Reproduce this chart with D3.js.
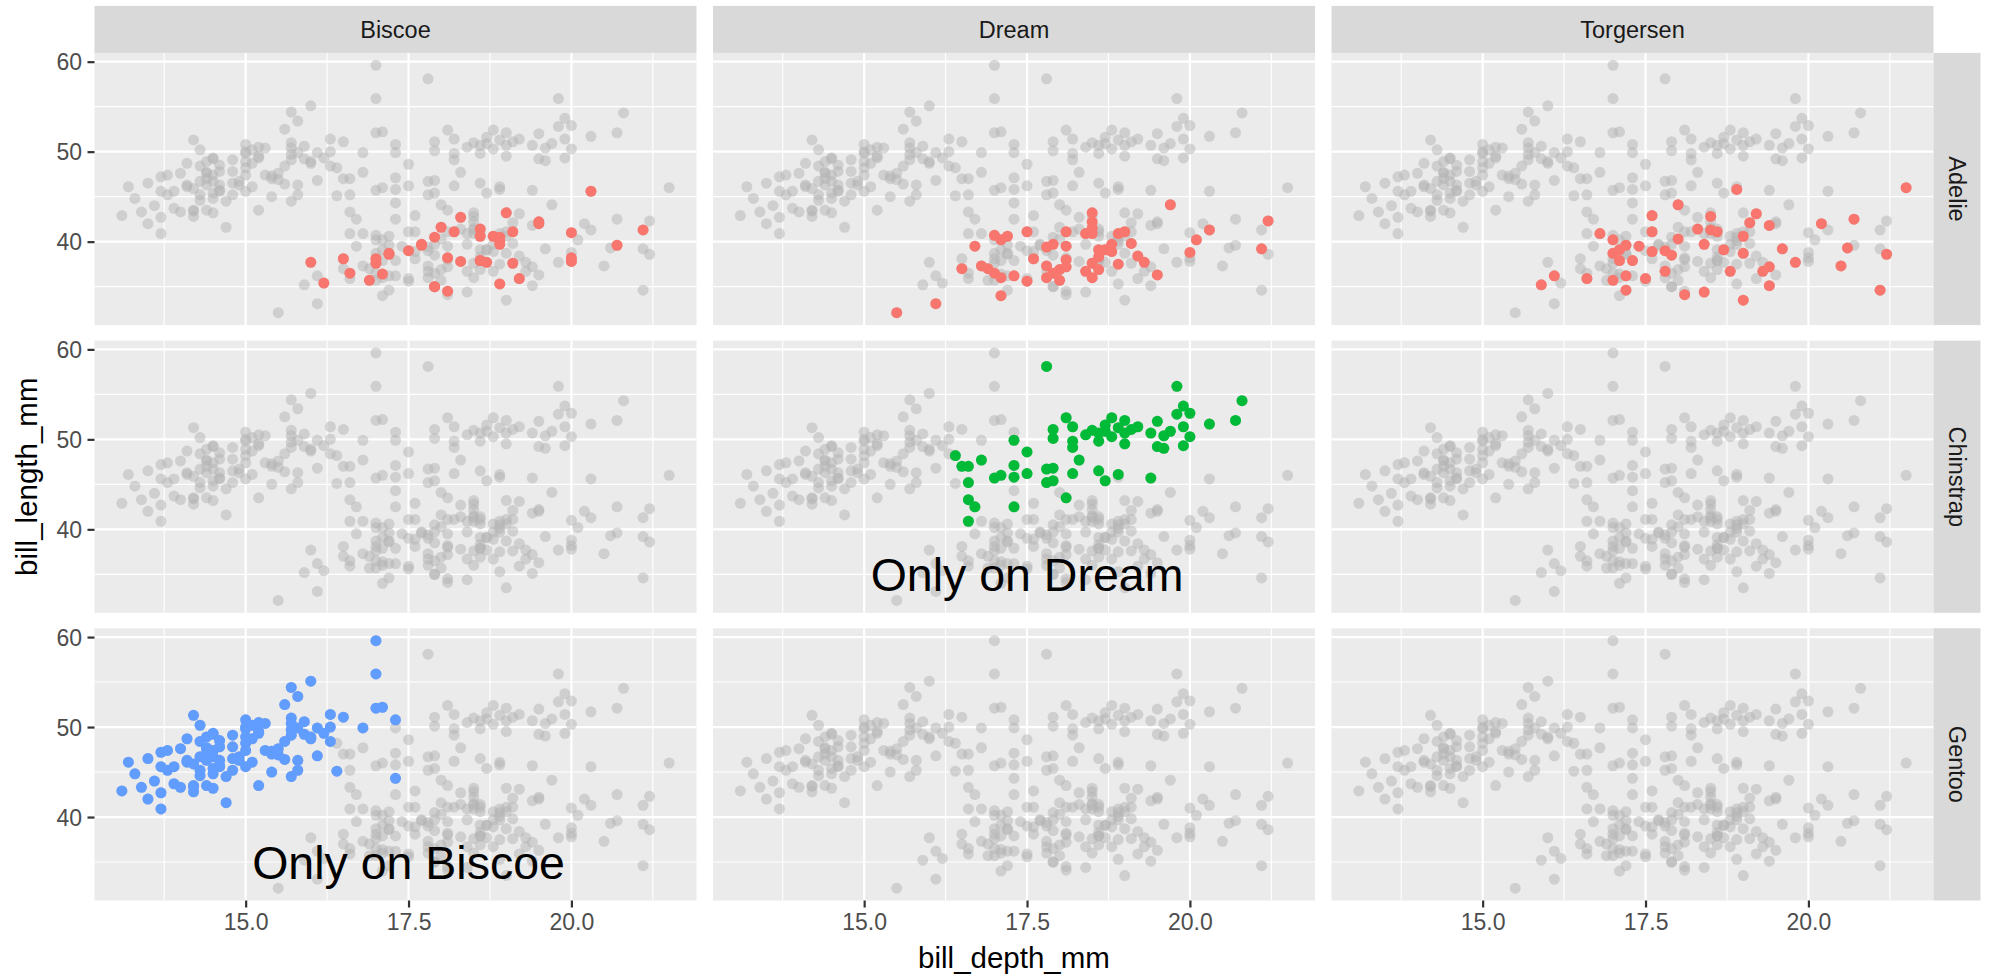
<!DOCTYPE html>
<html>
<head>
<meta charset="utf-8">
<script src="https://cdn.jsdelivr.net/npm/d3@7"></script>
<style>
  html, body { margin: 0; padding: 0; background: #ffffff; }
  svg { display: block; font-family: "Liberation Sans", Arial, sans-serif; }
</style>
</head>
<body>
<svg id="chart" width="1989" height="975"></svg>
<script>
// Facet layout: rows are species, columns are islands
const species = ["Adelie", "Chinstrap", "Gentoo"];
const islands = ["Biscoe", "Dream", "Torgersen"];

// Tick values for both axes
const xTicks = [15.0, 17.5, 20.0];
const xMinor = [13.75, 16.25, 18.75, 21.25];
const yTicks = [40, 50, 60];
const yMinor = [35, 45, 55];

// [bill_depth_mm, bill_length_mm]
const adelieBiscoe = [
  [16.0,37.7],[16.2,35.4],[16.5,38.1],[16.6,36.5],[16.9,35.7],[17.0,38.1],[17.0,37.6],
  [17.1,36.4],[17.2,38.7],[17.2,38.6],[17.5,39.0],[17.7,39.6],[17.7,39.7],[17.9,40.5],
  [17.9,35.0],[17.9,35.0],[18.0,41.6],[18.1,34.5],[18.1,38.2],[18.2,41.1],[18.3,42.7],
  [18.3,37.8],[18.6,41.4],[18.6,40.6],[18.6,37.9],[18.6,37.9],[18.7,37.7],[18.8,40.6],
  [18.9,40.5],[18.9,39.7],[18.9,40.1],[18.9,35.3],[19.0,43.2],[19.1,41.1],[19.1,37.6],
  [19.2,35.9],[19.5,42.2],[19.5,42.0],[20.0,41.0],[20.0,38.2],[20.0,37.8],[20.3,45.6],
  [20.7,39.6],[21.1,41.3]
];

const adelieDream = [
  [15.5,32.1],[16.1,33.1],[16.5,37.0],[16.7,39.5],[16.8,37.3],[16.9,37.0],[17.0,40.7],
  [17.0,36.5],[17.1,40.2],[17.1,36.0],[17.1,34.0],[17.2,40.6],[17.3,36.2],[17.5,41.1],
  [17.5,35.6],[17.6,38.1],[17.8,39.4],[17.8,37.3],[17.8,36.0],[17.9,39.7],[17.9,36.5],
  [18.0,35.7],[18.0,36.9],[18.1,41.1],[18.1,39.5],[18.1,38.0],[18.1,37.2],[18.4,40.9],
  [18.4,36.7],[18.5,43.2],[18.5,42.2],[18.5,41.5],[18.5,40.9],[18.5,37.6],[18.5,36.0],
  [18.6,36.9],[18.6,39.1],[18.6,38.3],[18.7,39.1],[18.8,39.7],[18.8,38.9],[18.9,40.9],
  [18.9,37.5],[19.0,41.1],[19.1,39.8],[19.2,38.4],[19.3,37.7],[19.5,36.3],[19.7,44.1],
  [20.0,38.8],[20.1,40.2],[20.3,41.3],[21.1,39.2],[21.2,42.3]
];

const adelieTorgersen = [
  [15.9,35.2],[16.1,36.2],[16.6,35.9],[16.8,40.9],[17.0,40.2],[17.0,38.7],[17.0,35.7],
  [17.1,39.1],[17.1,37.9],[17.2,39.6],[17.2,36.2],[17.2,34.6],[17.3,37.9],[17.4,39.5],
  [17.5,35.9],[17.6,42.9],[17.6,41.1],[17.6,38.9],[17.8,39.0],[17.8,36.7],[17.9,38.5],
  [18.0,44.1],[18.0,40.3],[18.1,34.1],[18.3,41.4],[18.4,39.7],[18.4,34.4],[18.5,42.8],
  [18.5,41.3],[18.6,41.1],[18.7,39.1],[18.8,36.7],[18.9,45.8],[19.0,40.6],[19.0,38.7],
  [19.0,33.5],[19.1,42.1],[19.2,43.1],[19.3,36.7],[19.4,41.8],[19.4,37.2],[19.4,35.1],
  [19.6,39.2],[19.8,37.7],[20.2,42.0],[20.5,37.3],[20.6,39.3],[20.7,42.5],[21.1,34.6],
  [21.2,38.6],[21.5,46.0]
];

const chinstrapDream = [
  [17.8,58.1],[19.8,55.9],[20.8,54.3],[20.7,52.1],[20.3,51.7],[19.9,53.7],[20.0,52.9],
  [19.8,52.8],[19.9,51.4],[20.0,50.3],[19.9,49.3],[19.7,50.9],[19.6,50.4],[19.5,52.0],
  [19.5,49.2],[19.6,49.0],[19.4,50.7],[19.2,51.4],[19.1,51.1],[19.0,52.1],[19.0,49.5],
  [19.0,50.7],[18.8,52.4],[18.8,50.3],[18.7,51.6],[18.7,50.9],[18.6,49.8],[18.6,50.7],
  [18.5,51.0],[18.4,50.5],[18.2,51.4],[18.1,52.4],[18.2,49.8],[18.2,49.1],[17.9,51.1],
  [17.9,50.1],[18.3,47.7],[17.3,49.9],[17.5,48.6],[17.3,47.1],[17.5,46.2],[17.3,45.8],
  [17.3,42.5],[17.8,46.7],[17.9,46.8],[17.8,45.2],[18.2,46.2],[18.1,43.5],[18.6,46.5],
  [18.7,45.4],[18.9,46.1],[19.4,45.7],[17.0,45.7],[17.1,46.0],[16.8,47.7],[16.4,48.2],
  [16.5,47.0],[16.6,47.0],[16.6,45.2],[16.6,43.3],[16.7,42.5],[16.6,40.9],[18.9,51.3],
  [17.9,45.4]
];

const gentooBiscoe = [
  [13.1,42.9],[13.2,46.1],[13.3,44.8],[13.4,43.3],[13.5,46.5],[13.5,42.0],[13.6,44.0],
  [13.7,47.2],[13.7,45.6],[13.7,42.7],[13.7,40.9],[13.8,47.4],[13.8,45.2],[13.9,45.6],
  [13.9,43.7],[14.0,47.6],[14.0,43.3],[14.1,48.7],[14.1,46.1],[14.1,46.3],[14.2,51.3],
  [14.3,50.2],[14.2,45.9],[14.2,43.5],[14.2,42.8],[14.2,43.4],[14.3,48.4],[14.3,46.7],
  [14.3,44.6],[14.3,45.2],[14.4,48.9],[14.4,47.7],[14.4,47.6],[14.4,47.0],[14.4,46.3],
  [14.4,43.5],[14.5,49.2],[14.5,49.3],[14.5,47.4],[14.5,46.7],[14.5,45.4],[14.5,44.8],
  [14.5,43.2],[14.6,48.5],[14.6,47.8],[14.6,46.3],[14.6,45.7],[14.6,45.6],[14.7,44.5],
  [14.7,41.6],[14.8,49.1],[14.8,47.8],[14.8,46.5],[14.8,45.2],[14.9,46.7],[14.9,46.3],
  [15.0,50.8],[15.0,50.0],[15.0,49.8],[15.0,48.9],[15.0,48.2],[15.0,47.4],[15.0,45.6],
  [15.1,50.2],[15.1,48.7],[15.1,46.1],[15.2,50.5],[15.2,49.5],[15.2,49.3],[15.2,43.5],
  [15.3,50.4],[15.3,47.4],[15.4,47.0],[15.4,47.3],[15.4,45.0],[15.5,46.9],[15.5,47.6],
  [15.6,52.5],[15.6,48.4],[15.6,46.4],[15.7,54.4],[15.7,51.0],[15.7,50.4],[15.7,49.1],
  [15.7,49.7],[15.7,44.5],[15.8,53.4],[15.8,49.9],[15.8,46.3],[15.8,45.2],[15.9,50.6],
  [15.9,49.2],[16.0,55.1],[16.0,48.7],[16.0,48.9],[16.1,49.9],[16.1,46.8],[16.2,49.3],
  [16.3,51.4],[16.3,50.0],[16.3,48.4],[16.4,45.1],[16.5,51.1],[16.8,49.9],[17.0,59.6],
  [17.0,55.9],[17.0,52.1],[17.1,52.2],[17.3,50.8],[17.3,44.3]
];

// Highlighted subset for each species/island facet
const subsets = [
  { species: "Adelie",    island: "Biscoe",    points: adelieBiscoe },
  { species: "Adelie",    island: "Dream",     points: adelieDream },
  { species: "Adelie",    island: "Torgersen", points: adelieTorgersen },
  { species: "Chinstrap", island: "Dream",     points: chinstrapDream },
  { species: "Gentoo",    island: "Biscoe",    points: gentooBiscoe }
];

const speciesColors = ["#F8766D", "#00BA38", "#619CFF"];

const notes = [
  { species: "Chinstrap", island: "Dream",  x: 17.5, y: 35, label: "Only on Dream" },
  { species: "Gentoo",    island: "Biscoe", x: 17.5, y: 35, label: "Only on Biscoe" }
];

// Every penguin, drawn as grey context in each facet
const allPoints = subsets.flatMap(s => s.points);

// ---- geometry ----
const marginLeft = 94.5, marginTop = 52.9;
const panelW = 602, panelH = 272.2;
const gapX = 16.5, gapY = 15.5;
const stripSize = 47;

const svg = d3.select("#chart");

function padded(extent) {
  const span = extent[1] - extent[0];
  return [extent[0] - span * 0.05, extent[1] + span * 0.05];
}

const x = d3.scaleLinear()
  .domain(padded(d3.extent(allPoints, d => d[0])))
  .range([0, panelW]);
const y = d3.scaleLinear()
  .domain(padded(d3.extent(allPoints, d => d[1])))
  .range([panelH, 0]);

const color = d3.scaleOrdinal().domain(species).range(speciesColors);

const panelX = i => marginLeft + i * (panelW + gapX);
const panelY = j => marginTop + j * (panelH + gapY);

// ---- panels ----
species.forEach((sp, r) => {
  islands.forEach((isl, c) => {
    const g = svg.append("g").attr("transform", `translate(${panelX(c)},${panelY(r)})`);

    g.append("rect")
      .attr("width", panelW).attr("height", panelH)
      .attr("fill", "#EBEBEB");

    // minor grid
    g.selectAll(".vmin").data(xMinor).join("line")
      .attr("x1", d => x(d)).attr("x2", d => x(d))
      .attr("y1", 0).attr("y2", panelH)
      .attr("stroke", "#ffffff").attr("stroke-width", 1.1);
    g.selectAll(".hmin").data(yMinor).join("line")
      .attr("y1", d => y(d)).attr("y2", d => y(d))
      .attr("x1", 0).attr("x2", panelW)
      .attr("stroke", "#ffffff").attr("stroke-width", 1.1);

    // major grid
    g.selectAll(".vmaj").data(xTicks).join("line")
      .attr("x1", d => x(d)).attr("x2", d => x(d))
      .attr("y1", 0).attr("y2", panelH)
      .attr("stroke", "#ffffff").attr("stroke-width", 2.2);
    g.selectAll(".hmaj").data(yTicks).join("line")
      .attr("y1", d => y(d)).attr("y2", d => y(d))
      .attr("x1", 0).attr("x2", panelW)
      .attr("stroke", "#ffffff").attr("stroke-width", 2.2);

    // grey context points
    g.append("g").selectAll("circle").data(allPoints).join("circle")
      .attr("cx", d => x(d[0])).attr("cy", d => y(d[1]))
      .attr("r", 5.5)
      .attr("fill", "#B3B3B3").attr("fill-opacity", 0.5);

    // highlighted species/island points
    const sub = subsets.find(s => s.species === sp && s.island === isl);
    if (sub) {
      g.append("g").selectAll("circle").data(sub.points).join("circle")
        .attr("cx", d => x(d[0])).attr("cy", d => y(d[1]))
        .attr("r", 5.5)
        .attr("fill", color(sp));
    }

    notes.filter(n => n.species === sp && n.island === isl).forEach(n => {
      g.append("text")
        .attr("x", x(n.x)).attr("y", y(n.y))
        .attr("dy", "0.358em")
        .attr("text-anchor", "middle")
        .attr("font-size", 46.5)
        .attr("fill", "#000000")
        .text(n.label);
    });

    // y axis on the first column
    if (c === 0) {
      const ya = d3.axisLeft(y).tickValues(yTicks).tickSize(7).tickPadding(5.5)
        .tickFormat(d3.format("d"));
      const ag = g.append("g").call(ya);
      ag.select(".domain").remove();
      ag.selectAll(".tick line").attr("stroke", "#333333").attr("stroke-width", 2.2);
      ag.selectAll(".tick text")
        .attr("font-size", 23).attr("fill", "#4D4D4D")
        .attr("font-family", "Liberation Sans, Arial, sans-serif")
        .attr("dy", "0.36em");
    }

    // x axis on the bottom row
    if (r === species.length - 1) {
      const xa = d3.axisBottom(x).tickValues(xTicks).tickSize(7).tickPadding(5.5)
        .tickFormat(d3.format(".1f"));
      const ag = g.append("g").attr("transform", `translate(0,${panelH})`).call(xa);
      ag.select(".domain").remove();
      ag.selectAll(".tick line").attr("stroke", "#333333").attr("stroke-width", 2.2);
      ag.selectAll(".tick text")
        .attr("font-size", 23).attr("fill", "#4D4D4D")
        .attr("font-family", "Liberation Sans, Arial, sans-serif")
        .attr("dy", "0.72em");
    }
  });
});

// ---- top strips (islands) ----
islands.forEach((isl, c) => {
  const g = svg.append("g").attr("transform", `translate(${panelX(c)},${marginTop - stripSize})`);
  g.append("rect").attr("width", panelW).attr("height", stripSize).attr("fill", "#D9D9D9");
  g.append("text")
    .attr("x", panelW / 2).attr("y", stripSize / 2)
    .attr("dy", "0.36em")
    .attr("text-anchor", "middle")
    .attr("font-size", 23.5).attr("fill", "#1A1A1A")
    .text(isl);
});

// ---- right strips (species) ----
const stripX = panelX(islands.length - 1) + panelW;
species.forEach((sp, r) => {
  const g = svg.append("g").attr("transform", `translate(${stripX},${panelY(r)})`);
  g.append("rect").attr("width", stripSize).attr("height", panelH).attr("fill", "#D9D9D9");
  g.append("text")
    .attr("transform", `translate(${stripSize / 2},${panelH / 2}) rotate(90)`)
    .attr("dy", "0.36em")
    .attr("text-anchor", "middle")
    .attr("font-size", 23.5).attr("fill", "#1A1A1A")
    .text(sp);
});

// ---- axis titles ----
const plotMidX = marginLeft + (islands.length * panelW + (islands.length - 1) * gapX) / 2;
const plotMidY = marginTop + (species.length * panelH + (species.length - 1) * gapY) / 2;

svg.append("text")
  .attr("x", plotMidX).attr("y", 968)
  .attr("text-anchor", "middle")
  .attr("font-size", 29.5).attr("fill", "#000000")
  .text("bill_depth_mm");

svg.append("text")
  .attr("transform", `translate(36.5,${plotMidY}) rotate(-90)`)
  .attr("text-anchor", "middle")
  .attr("font-size", 29.5).attr("fill", "#000000")
  .text("bill_length_mm");
</script>
</body>
</html>
